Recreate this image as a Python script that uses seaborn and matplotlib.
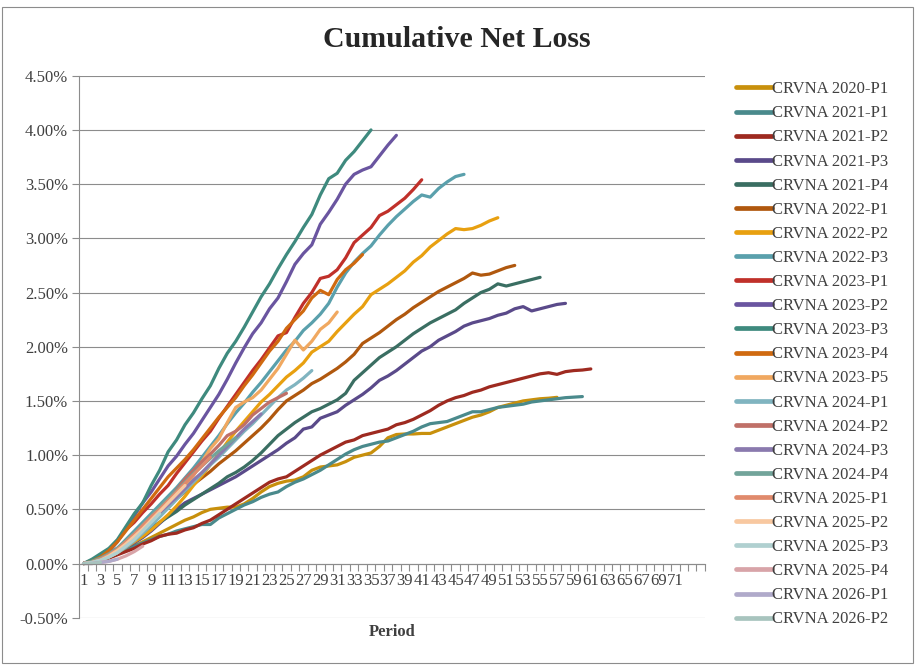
import matplotlib
matplotlib.use("Agg")
import matplotlib.pyplot as plt
import seaborn as sns
import pandas as pd
from matplotlib.patches import Rectangle
from matplotlib.ticker import FixedLocator, FuncFormatter

# ---------------- data (cumulative net loss, %) ----------------
series_names = ["CRVNA 2020-P1", "CRVNA 2021-P1", "CRVNA 2021-P2", "CRVNA 2021-P3",
                "CRVNA 2021-P4", "CRVNA 2022-P1", "CRVNA 2022-P2", "CRVNA 2022-P3",
                "CRVNA 2023-P1", "CRVNA 2023-P2", "CRVNA 2023-P3", "CRVNA 2023-P4",
                "CRVNA 2023-P5", "CRVNA 2024-P1", "CRVNA 2024-P2", "CRVNA 2024-P3",
                "CRVNA 2024-P4", "CRVNA 2025-P1", "CRVNA 2025-P2", "CRVNA 2025-P3",
                "CRVNA 2025-P4", "CRVNA 2026-P1", "CRVNA 2026-P2"]

series_colors = ["#C8900C", "#4A8A8C", "#9E2A20", "#5A4A8A", "#3A6E62", "#B0580E",
                 "#E8A010", "#5AA0AC", "#C0302A", "#6A55A0", "#3E8A7E", "#D06A10",
                 "#F0A860", "#80B4C0", "#C07068", "#8A7AAE", "#72A49A", "#E08A6C",
                 "#F8C8A0", "#B0D0D0", "#D8A4A8", "#B0AACA", "#A8C4BE"]

v_2020_p1 = [0.00, 0.01, 0.03, 0.06, 0.09, 0.12, 0.16, 0.20, 0.24, 0.28, 0.32, 0.36, 0.40, 0.43,
             0.47, 0.50, 0.51, 0.52, 0.52, 0.55, 0.60, 0.66, 0.71, 0.74, 0.76, 0.77, 0.80, 0.86,
             0.89, 0.90, 0.91, 0.94, 0.98, 1.00, 1.02, 1.08, 1.16, 1.19, 1.195, 1.195, 1.20, 1.20,
             1.23, 1.26, 1.29, 1.32, 1.35, 1.37, 1.40, 1.44, 1.46, 1.48, 1.50, 1.51, 1.52, 1.525,
             1.533]
v_2021_p1 = [0.00, 0.02, 0.05, 0.09, 0.12, 0.14, 0.16, 0.19, 0.22, 0.25, 0.27, 0.30, 0.32, 0.34,
             0.36, 0.36, 0.42, 0.46, 0.50, 0.54, 0.57, 0.61, 0.64, 0.66, 0.71, 0.75, 0.78, 0.82,
             0.86, 0.91, 0.96, 1.01, 1.05, 1.08, 1.10, 1.12, 1.13, 1.16, 1.19, 1.22, 1.26, 1.29,
             1.30, 1.31, 1.34, 1.37, 1.40, 1.40, 1.42, 1.44, 1.45, 1.46, 1.47, 1.49, 1.50, 1.51,
             1.52, 1.53, 1.535, 1.54]
v_2021_p2 = [0.00, 0.01, 0.03, 0.05, 0.08, 0.11, 0.14, 0.18, 0.21, 0.25, 0.27, 0.28, 0.31, 0.33,
             0.37, 0.40, 0.45, 0.50, 0.55, 0.60, 0.65, 0.70, 0.75, 0.78, 0.80, 0.85, 0.90, 0.95,
             1.00, 1.04, 1.08, 1.12, 1.14, 1.18, 1.20, 1.22, 1.24, 1.28, 1.30, 1.33, 1.37, 1.41,
             1.46, 1.50, 1.53, 1.55, 1.58, 1.60, 1.63, 1.65, 1.67, 1.69, 1.71, 1.73, 1.75, 1.76,
             1.745, 1.77, 1.78, 1.785, 1.795]
v_2021_p3 = [0.00, 0.01, 0.03, 0.06, 0.10, 0.15, 0.19, 0.24, 0.30, 0.37, 0.44, 0.50, 0.56, 0.60,
             0.64, 0.68, 0.72, 0.76, 0.80, 0.85, 0.90, 0.95, 1.00, 1.05, 1.11, 1.16, 1.24, 1.26,
             1.34, 1.37, 1.40, 1.46, 1.51, 1.56, 1.62, 1.69, 1.73, 1.78, 1.84, 1.90, 1.96, 2.00,
             2.06, 2.10, 2.14, 2.19, 2.22, 2.24, 2.26, 2.29, 2.31, 2.35, 2.37, 2.33, 2.35, 2.37,
             2.39, 2.40]
v_2021_p4 = [0.00, 0.02, 0.04, 0.08, 0.12, 0.17, 0.22, 0.27, 0.33, 0.38, 0.43, 0.48, 0.54, 0.59,
             0.64, 0.69, 0.74, 0.80, 0.84, 0.89, 0.95, 1.02, 1.10, 1.18, 1.24, 1.30, 1.35, 1.40,
             1.43, 1.47, 1.51, 1.57, 1.69, 1.76, 1.83, 1.90, 1.95, 2.00, 2.06, 2.12, 2.17, 2.22,
             2.26, 2.30, 2.34, 2.40, 2.45, 2.50, 2.53, 2.58, 2.56, 2.58, 2.60, 2.62, 2.64]
v_2022_p1 = [0.00, 0.02, 0.05, 0.09, 0.14, 0.20, 0.27, 0.33, 0.39, 0.46, 0.52, 0.60, 0.66, 0.73,
             0.79, 0.85, 0.92, 0.98, 1.04, 1.11, 1.18, 1.25, 1.33, 1.42, 1.50, 1.55, 1.60, 1.66,
             1.70, 1.75, 1.80, 1.86, 1.93, 2.03, 2.08, 2.13, 2.19, 2.25, 2.30, 2.36, 2.41, 2.46,
             2.51, 2.55, 2.59, 2.63, 2.68, 2.66, 2.67, 2.70, 2.73, 2.75]
v_2022_p2 = [0.00, 0.01, 0.03, 0.06, 0.10, 0.15, 0.20, 0.25, 0.31, 0.38, 0.45, 0.53, 0.62, 0.72,
             0.81, 0.91, 1.01, 1.12, 1.22, 1.31, 1.40, 1.49, 1.56, 1.64, 1.72, 1.78, 1.85, 1.95,
             2.00, 2.05, 2.14, 2.22, 2.30, 2.37, 2.48, 2.53, 2.58, 2.64, 2.70, 2.78, 2.84, 2.92,
             2.98, 3.04, 3.09, 3.08, 3.09, 3.12, 3.16, 3.19]
v_2022_p3 = [0.00, 0.02, 0.05, 0.09, 0.14, 0.22, 0.30, 0.38, 0.46, 0.54, 0.62, 0.70, 0.79, 0.88,
             0.98, 1.08, 1.18, 1.29, 1.39, 1.48, 1.58, 1.67, 1.77, 1.87, 1.97, 2.05, 2.15, 2.22,
             2.30, 2.40, 2.55, 2.68, 2.78, 2.86, 2.93, 3.03, 3.12, 3.20, 3.27, 3.34, 3.40, 3.38,
             3.46, 3.52, 3.57, 3.59]
v_2023_p1 = [0.00, 0.03, 0.07, 0.13, 0.21, 0.31, 0.38, 0.47, 0.55, 0.64, 0.72, 0.83, 0.93, 1.03,
             1.13, 1.22, 1.34, 1.45, 1.56, 1.67, 1.78, 1.88, 1.99, 2.10, 2.13, 2.27, 2.40, 2.50,
             2.63, 2.65, 2.71, 2.82, 2.96, 3.03, 3.10, 3.21, 3.25, 3.31, 3.37, 3.45, 3.54]
v_2023_p2 = [0.00, 0.02, 0.06, 0.11, 0.20, 0.32, 0.44, 0.56, 0.66, 0.78, 0.90, 0.99, 1.10, 1.20,
             1.32, 1.44, 1.56, 1.70, 1.85, 1.99, 2.12, 2.22, 2.35, 2.45, 2.60, 2.76, 2.86, 2.94,
             3.13, 3.24, 3.36, 3.50, 3.59, 3.63, 3.66, 3.76, 3.86, 3.95]
v_2023_p3 = [0.00, 0.04, 0.09, 0.14, 0.22, 0.34, 0.46, 0.56, 0.72, 0.86, 1.03, 1.14, 1.28, 1.39,
             1.52, 1.64, 1.80, 1.94, 2.05, 2.18, 2.32, 2.46, 2.58, 2.72, 2.85, 2.97, 3.10, 3.22,
             3.40, 3.55, 3.60, 3.72, 3.80, 3.90, 4.00]
v_2023_p4 = [0.00, 0.02, 0.06, 0.12, 0.20, 0.30, 0.40, 0.50, 0.60, 0.70, 0.80, 0.88, 0.96, 1.05,
             1.15, 1.25, 1.35, 1.44, 1.53, 1.64, 1.74, 1.85, 1.96, 2.05, 2.17, 2.25, 2.33, 2.45,
             2.52, 2.48, 2.62, 2.71, 2.77, 2.85]
v_2023_p5 = [0.00, 0.01, 0.03, 0.06, 0.10, 0.16, 0.22, 0.30, 0.38, 0.46, 0.54, 0.62, 0.72, 0.81,
             0.94, 1.06, 1.15, 1.30, 1.44, 1.49, 1.53, 1.60, 1.70, 1.80, 1.93, 2.06, 1.97, 2.05,
             2.16, 2.22, 2.32]
v_2024_p1 = [0.00, 0.01, 0.03, 0.06, 0.10, 0.15, 0.21, 0.28, 0.35, 0.43, 0.51, 0.59, 0.67, 0.75,
             0.83, 0.91, 0.98, 1.06, 1.14, 1.22, 1.29, 1.37, 1.45, 1.53, 1.60, 1.65, 1.71, 1.78]
v_2024_p2 = [0.00, 0.01, 0.03, 0.07, 0.12, 0.18, 0.25, 0.33, 0.42, 0.50, 0.58, 0.68, 0.78, 0.86,
             0.94, 1.01, 1.09, 1.18, 1.22, 1.28, 1.37, 1.43, 1.49, 1.53, 1.57]
v_2024_p3 = [0.00, 0.01, 0.04, 0.08, 0.13, 0.19, 0.26, 0.33, 0.40, 0.47, 0.54, 0.61, 0.69, 0.77,
             0.84, 0.92, 1.00, 1.08, 1.16, 1.24, 1.31, 1.38]
v_2024_p4 = [0.00, 0.02, 0.05, 0.09, 0.14, 0.21, 0.28, 0.36, 0.44, 0.52, 0.60, 0.67, 0.75, 0.83,
             0.90, 0.97, 1.04, 1.10, 1.16]
v_2025_p1 = [0.00, 0.01, 0.04, 0.08, 0.13, 0.20, 0.27, 0.35, 0.43, 0.50, 0.58, 0.66, 0.74, 0.82,
             0.90, 0.98]
v_2025_p2 = [0.00, 0.01, 0.03, 0.07, 0.12, 0.18, 0.25, 0.32, 0.40, 0.48, 0.56, 0.64, 0.72]
v_2025_p3 = [0.00, 0.01, 0.03, 0.06, 0.10, 0.16, 0.22, 0.30, 0.38, 0.46]
v_2025_p4 = [0.00, 0.00, 0.01, 0.02, 0.04, 0.07, 0.11, 0.16]
v_2026_p1 = [0.00, 0.00, 0.01, 0.02, 0.04]
v_2026_p2 = [0.00, 0.00, 0.01]

series_values = [v_2020_p1, v_2021_p1, v_2021_p2, v_2021_p3, v_2021_p4, v_2022_p1,
                 v_2022_p2, v_2022_p3, v_2023_p1, v_2023_p2, v_2023_p3, v_2023_p4,
                 v_2023_p5, v_2024_p1, v_2024_p2, v_2024_p3, v_2024_p4, v_2025_p1,
                 v_2025_p2, v_2025_p3, v_2025_p4, v_2026_p1, v_2026_p2]

n_periods = 74
x_tick_labels = ["1", "3", "5", "7", "9", "11", "13", "15", "17", "19", "21", "23", "25",
                 "27", "29", "31", "33", "35", "37", "39", "41", "43", "45", "47", "49", "51",
                 "53", "55", "57", "59", "61", "63", "65", "67", "69", "71"]
y_ticks = [-0.5, 0.0, 0.5, 1.0, 1.5, 2.0, 2.5, 3.0, 3.5, 4.0, 4.5]

rows = []
for name, vals in zip(series_names, series_values):
    for i, v in enumerate(vals):
        rows.append({"Period": i + 1, "Loss": v, "Series": name})
df = pd.DataFrame(rows)

# ---------------- style ----------------
sns.set_theme(style="white")
plt.rcParams["font.family"] = ["Liberation Serif", "DejaVu Serif"]
text_col = "#404040"
grid_col = "#8C8C8C"
fs = 12

fig = plt.figure(figsize=(9.16, 6.66), dpi=100)
ax = fig.add_axes([0.0866, 0.0725, 0.683, 0.8138])

palette = dict(zip(series_names, series_colors))
sns.lineplot(data=df, x="Period", y="Loss", hue="Series", hue_order=series_names,
             palette=palette, linewidth=2.3, ax=ax, legend=True, estimator=None,
             sort=False)

ax.set_xlim(0.5, n_periods + 0.5)
ax.set_ylim(-0.5, 4.5)

# y axis
ax.set_yticks(y_ticks)
ax.yaxis.set_major_formatter(FuncFormatter(lambda v, p: f"{v:.2f}%"))
ax.tick_params(axis="y", which="major", direction="out", length=5, width=0.8,
               color=grid_col, labelsize=fs, labelcolor=text_col, pad=3, left=True)
ax.grid(axis="y", color=grid_col, linewidth=0.8)
ax.grid(axis="x", visible=False)

# x axis (category axis crossing at 0)
for s in ["top", "right"]:
    ax.spines[s].set_visible(False)
ax.spines["left"].set_color(grid_col)
ax.spines["left"].set_linewidth(0.8)
ax.spines["bottom"].set_position(("data", 0))
ax.spines["bottom"].set_color(grid_col)
ax.spines["bottom"].set_linewidth(0.8)

label_pos = [int(t) for t in x_tick_labels]
ax.xaxis.set_major_locator(FixedLocator(label_pos))
ax.set_xticklabels(x_tick_labels)
ax.xaxis.set_minor_locator(FixedLocator([i + 0.5 for i in range(0, n_periods + 1)]))
ax.tick_params(axis="x", which="major", length=0, labelsize=fs, labelcolor=text_col, pad=7)
ax.tick_params(axis="x", which="minor", direction="out", length=5, width=0.8,
               color=grid_col, bottom=True)

ax.set_xlabel("")
ax.set_ylabel("")
fig.text(0.428, 0.051, "Period", ha="center", va="center", fontsize=fs,
         fontweight="bold", color=text_col)

fig.text(0.499, 0.94, "Cumulative Net Loss", ha="center", va="center", fontsize=21.5,
         fontweight="bold", color="#262626")

# legend on the right
handles, labels = ax.get_legend_handles_labels()
ax.get_legend().remove()
for h in handles:
    h.set_linewidth(3.4)
fig.legend(handles, labels, loc="upper left", bbox_to_anchor=(0.796, 0.888),
           frameon=False, fontsize=fs, handlelength=2.15, handletextpad=0.05,
           labelspacing=0.486, labelcolor=text_col, borderaxespad=0)

# outer chart border
fig.patches.append(Rectangle((0.002, 0.004), 0.995, 0.985, transform=fig.transFigure,
                             fill=False, edgecolor=grid_col, linewidth=0.8))

fig.savefig("out.png", dpi=100, facecolor="white")
